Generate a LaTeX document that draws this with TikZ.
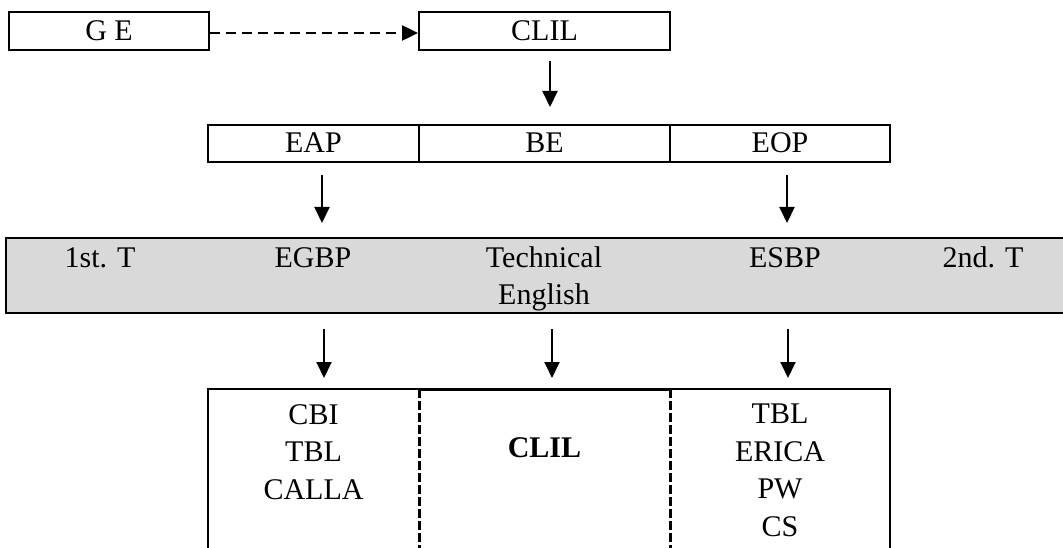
\documentclass[tikz,border=0pt]{standalone}
\usepackage{fontspec}
\setmainfont{Liberation Serif}
\usetikzlibrary{arrows.meta}
\definecolor{bandgray}{HTML}{D9D9D9}
\tikzset{
  box/.style={draw, line width=2pt, inner sep=0pt, minimum height=38pt},
  cell/.style={draw, line width=2pt, inner sep=0pt, minimum height=37pt},
  lbl/.style={inner sep=0pt, anchor=base, font=\fontsize{30pt}{37.5pt}\selectfont, align=center},
  arr/.style={line width=2pt, -{Triangle[width=15pt,length=16pt]}},
  darr/.style={line width=2.5pt, dash pattern=on 10pt off 6pt, -{Triangle[width=15pt,length=16pt]}},
  divider/.style={line width=3pt, dash pattern=on 9pt off 3pt},
  solid border/.style={line width=2pt}
}
\begin{document}
\begin{tikzpicture}[x=1pt,y=-1pt, font=\fontsize{30pt}{37.5pt}\selectfont]
\useasboundingbox (0,0) rectangle (1063,548);
% top row
\node[box, minimum width=200pt] (ge) at (109,31) {};
\node[lbl] (getext) at (109,41) {G E};
\node[box, minimum width=251pt] (clil) at (544.5,31) {};
\node[lbl] (cliltext) at (544.5,41) {CLIL};
\draw[darr] ([yshift=-2pt]ge.east) -- ([yshift=-2pt]clil.west);
% middle row
\node[cell, minimum width=211pt] (eap) at (313.5,143.5) {};
\node[cell, minimum width=251pt] (be) at (544.5,143.5) {};
\node[cell, minimum width=220pt] (eop) at (780,143.5) {};
\node[lbl] (eapt) at (313.5,153) {EAP};
\node[lbl] (bet) at (544.5,153) {BE};
\node[lbl] (eopt) at (780,153) {EOP};
\draw[arr, shorten <=10pt, shorten >=17pt] ([xshift=5.5pt]clil.south) -- ([xshift=5.5pt]clil.south |- be.north);
% gray band
\node[draw, line width=2pt, fill=bandgray, inner sep=0pt, anchor=north west,
      minimum width=1064pt, minimum height=75pt] (band) at (5,237) {};
\node[lbl] (t1) at (100,267) {1st. T};
\node[lbl] (egbp) at (313,267) {EGBP};
\node[lbl] (tech) at (544,304.5) {Technical\\English};
\node[lbl] (esbp) at (785,267) {ESBP};
\node[lbl] (t2) at (983,267) {2nd. T};
\draw[arr, shorten <=12pt, shorten >=14pt] ([xshift=8.5pt]eap.south) -- ([xshift=8.5pt]eap.south |- band.north);
\draw[arr, shorten <=12pt, shorten >=14pt] ([xshift=7pt]eop.south) -- ([xshift=7pt]eop.south |- band.north);
% bottom box cells
\node[inner sep=0pt, anchor=north west, minimum width=211pt, minimum height=170pt] (c1) at (208,389) {};
\node[inner sep=0pt, anchor=north west, minimum width=251pt, minimum height=170pt] (c2) at (419,389) {};
\node[inner sep=0pt, anchor=north west, minimum width=220pt, minimum height=170pt] (c3) at (670,389) {};
\draw[solid border] (c1.south west) -- (c1.north west) -- (c1.north east);
\draw[line width=3pt] (c2.north west) -- (c2.north east);
\draw[solid border] (c3.north west) -- (c3.north east) -- (c3.south east);
\draw[divider] (c2.north west) -- (c2.south west);
\draw[divider] (c2.north east) -- (c2.south east);
% arrows into bottom box
\draw[arr, shorten <=15pt, shorten >=11pt] (band.south -| 324,0) -- (c1.north -| 324,0);
\draw[arr, shorten <=15pt, shorten >=11pt] (band.south -| 552,0) -- (c2.north -| 552,0);
\draw[arr, shorten <=15pt, shorten >=11pt] (band.south -| 788,0) -- (c3.north -| 788,0);
% bottom box texts
\node[lbl] (leftlist) at (313.5,499) {CBI\\TBL\\CALLA};
\node[lbl, font=\fontsize{30pt}{37.5pt}\selectfont\bfseries] (clilb) at (544.5,457) {CLIL};
\node[lbl] (rightlist) at (780,536) {TBL\\ERICA\\PW\\CS};
\end{tikzpicture}
\end{document}
